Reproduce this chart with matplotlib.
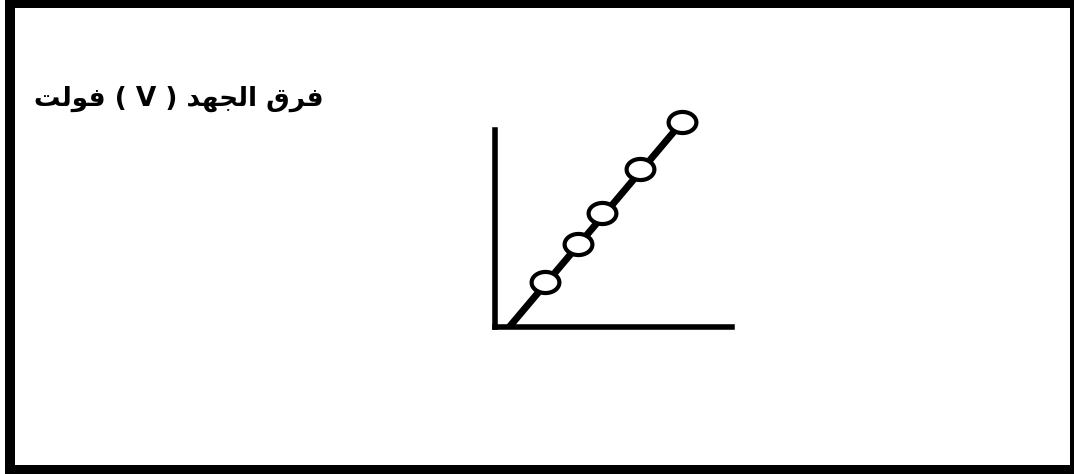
import numpy as np
import matplotlib.pyplot as plt
from matplotlib.path import Path
from matplotlib.patches import Rectangle

# label, written in Arabic presentation forms (visual order) since matplotlib has no shaping
label = "\uFE96\uFEDF\uFEEE\uFED3 ( V ) \uFEAA\uFEEC\uFEA0\uFEDF\uFE8D \uFED5\uFEAE\uFED3"

# readings (arbitrary units)
vx = [2.1, 3.5, 4.5, 6.1, 7.9]
vy = [2.3, 4.2, 5.8, 8.0, 10.4]
start_x = 0.6  # where the fitted line meets the x axis

W, H = 1074, 474
fig = plt.figure(figsize=(W / 100, H / 100), dpi=100)
fig.patch.set_facecolor('white')

# thick frame round everything (x, y, w, h in pixels, y from bottom)
frame = [(5, H - 8, W - 5, 8),   # top
         (5, 0, 10, H),          # left
         (5, 0, W - 5, 9),       # bottom
         (W - 4, 0, 4, H)]       # right
for x, y, w, h in frame:
    fig.patches.append(Rectangle((x / W, y / H), w / W, h / H,
                                 transform=fig.transFigure, facecolor='black',
                                 edgecolor='none'))

fig.text(34 / W, 1 - 106 / H, label, fontsize=19, fontweight='bold',
         family=['DejaVu Sans'], ha='left', va='baseline')

ax = fig.add_axes([495 / W, 1 - 327 / H, 237 / W, 217 / H])
ax.set_xlim(0, 10)
ax.set_ylim(0, 11)
for s in ['top', 'right']:
    ax.spines[s].set_visible(False)
for s in ['left', 'bottom']:
    ax.spines[s].set_linewidth(4)
    ax.spines[s].set_color('black')
ax.spines['left'].set_bounds(0, 10)
ax.spines['left'].set_capstyle('projecting')
ax.set_xticks([])
ax.set_yticks([])
ax.patch.set_alpha(0)

# ellipse marker, a bit flatter than a circle
t = np.linspace(0, 2 * np.pi, 60)
ell = Path(np.column_stack([np.cos(t), 0.76 * np.sin(t)]), closed=True)

ax.plot([start_x, vx[-1]], [0, vy[-1]], color='black', lw=5,
        solid_capstyle='butt', clip_on=False, zorder=2)
ax.plot(vx, vy, linestyle='none', marker=ell, markersize=20,
        markerfacecolor='white', markeredgecolor='black', markeredgewidth=3,
        clip_on=False, zorder=3)

fig.savefig('out.png', dpi=100)
